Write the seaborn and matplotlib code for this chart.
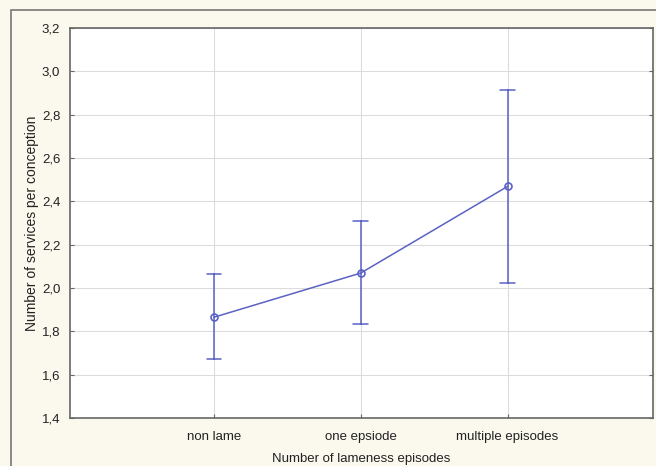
import matplotlib
matplotlib.use("Agg")
import matplotlib.pyplot as plt
import matplotlib.ticker as mticker
from matplotlib.patches import Rectangle
import seaborn as sns
import pandas as pd

categories = ["non lame", "one epsiode", "multiple episodes"]
means = [1.865, 2.069, 2.469]
lower = [1.671, 1.834, 2.023]
upper = [2.063, 2.311, 2.914]
yticks = [1.4, 1.6, 1.8, 2.0, 2.2, 2.4, 2.6, 2.8, 3.0, 3.2]

rows = []
for c, lo, m, hi in zip(categories, lower, means, upper):
    for v in (lo, m, hi):
        rows.append({"group": c, "value": v})
df = pd.DataFrame(rows)

sns.set_theme(style="white")
plt.rcParams['font.family'] = ['Liberation Sans', 'DejaVu Sans']

fig = plt.figure(figsize=(6.56, 4.66), dpi=100)
fig.patch.set_facecolor("#fbf8ee")
ax = fig.add_axes([70/656, 1-418/466, (653-70)/656, (418-28)/466])
ax.set_facecolor("white")

color = "#5a62c4"
sns.pointplot(data=df, x="group", y="value", order=categories,
              estimator="median", errorbar=lambda v: (v.min(), v.max()),
              capsize=0.1, color=color, markers="o", linestyles="-",
              markersize=5, markerfacecolor="none", markeredgewidth=1.2,
              linewidth=1.1, err_kws={"linewidth": 1.1}, ax=ax)

ax.set_xlim(-0.98, 2.99)
ax.set_ylim(1.4, 3.2)
ax.set_yticks(yticks)
ax.yaxis.set_major_formatter(mticker.FuncFormatter(lambda v, p: f"{v:.1f}".replace(".", ",")))
ax.grid(True, color="#dcdcdc", linewidth=0.8)
ax.set_axisbelow(True)
for s in ax.spines.values():
    s.set_visible(True)
    s.set_color("#666666")
    s.set_linewidth(1.2)
ax.tick_params(axis="both", direction="in", length=3, width=0.8, color="#666666",
               labelsize=9.5, labelcolor="#222222", right=True, left=True, bottom=True)
ax.tick_params(axis="y", pad=7)
ax.tick_params(axis="x", pad=16)
for lbl in ax.get_xticklabels():
    lbl.set_verticalalignment("baseline")
ax.set_xlabel("Number of lameness episodes", fontsize=9.5, color="#222222", labelpad=7)
ax.set_ylabel("Number of services per conception", fontsize=10, color="#222222", labelpad=2)

fig.patches.append(Rectangle((11/656, -0.02), 1.0, 1-10/466 + 0.02, transform=fig.transFigure,
                             fill=False, edgecolor="#777777", linewidth=1.2, zorder=-1))

fig.savefig("out.png", dpi=100, facecolor=fig.get_facecolor())
